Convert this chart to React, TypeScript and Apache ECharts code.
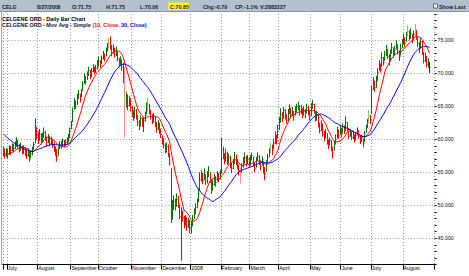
import { useEffect, useRef } from 'react';
import * as echarts from 'echarts';

// Month axis: label shown at the first trading day of each month, and trading days per month
const monthLabels = ['', 'July', 'August', 'September', 'October', 'November', 'December', '2008', 'February', 'March', 'April', 'May', 'June', 'July', 'August'];
const monthDays = [3, 21, 23, 19, 23, 21, 20, 21, 20, 20, 22, 21, 21, 22, 19];

// Closes before the first visible bar (used only to warm up the moving averages)
const preHistoryCloses = [
  64.2, 63.8, 64.5, 63.9, 63.2, 64.0, 63.5, 62.8, 63.6, 63.1, 64.0, 63.8,
  61.5, 60.8, 60.2, 59.6, 60.4, 59.8, 59.1, 60.0,
  58.4, 57.6, 57.9, 58.3, 57.2, 57.5, 58.0, 57.4, 57.7,
];

const closes = [
  58.2, 57.5, 58.0,
  57.8, 58.5, 58.3, 58.9, 58.6, 59.2, 59.6, 59.0, 58.6, 58.9, 58.2, 58.5, 58.0, 57.6, 58.1, 57.0, 57.8, 58.4, 59.2, 61.5, 60.6,
  60.0, 60.8, 59.6, 60.4, 61.0, 60.2, 59.5, 60.3, 59.4, 59.9, 59.1, 58.6, 58.0, 57.4, 58.6, 59.2, 59.0, 59.6, 59.3, 59.5, 59.8, 60.2, 61.3,
  62.3, 64.2, 65.5, 65.0, 66.3, 66.8, 66.0, 67.2, 68.3, 69.3, 68.8, 69.8, 70.4, 69.6, 70.3, 70.9, 70.2, 70.8, 71.3,
  71.8, 71.2, 72.2, 72.8, 72.3, 73.4, 74.0, 74.6, 74.2, 73.1, 73.8, 72.9, 73.5, 72.2, 71.5, 72.0, 70.9, 69.8, 65.8, 66.5, 65.2, 66.0, 64.8,
  64.0, 63.2, 64.3, 63.5, 62.6, 62.0, 63.1, 62.5, 62.8, 63.6, 64.8, 65.2, 64.1, 63.5, 62.8, 63.4, 62.2, 61.6, 62.4, 61.2, 60.8,
  59.8, 59.0, 58.4, 58.9, 57.8, 56.4, 48.5, 49.5, 50.6, 49.8, 50.9, 50.2, 48.3, 48.9, 48.1, 47.2, 47.8, 46.8, 47.5, 46.4,
  46.9, 47.8, 48.9, 49.6, 50.4, 51.8, 53.9, 54.6, 53.8, 54.9, 53.6, 54.5, 55.3, 53.9, 52.6, 53.2, 54.1, 53.5, 54.6, 54.0, 54.8,
  58.4, 57.6, 56.8, 57.9, 56.5, 57.2, 56.1, 55.6, 56.4, 57.3, 56.7, 55.9, 55.2, 54.6, 55.8, 56.6, 57.2, 56.4, 57.0, 56.3,
  56.9, 57.5, 56.2, 55.6, 56.8, 57.4, 56.5, 55.8, 56.9, 55.4, 54.8, 56.3, 57.2, 58.0, 58.8, 58.3, 59.4, 60.3, 59.8, 61.2,
  62.6, 63.8, 63.2, 64.3, 63.5, 62.9, 64.0, 64.6, 63.7, 64.2, 63.4, 64.5, 64.9, 65.2, 64.1, 64.6, 63.8, 64.4, 63.9, 64.8, 64.3, 63.6,
  64.8, 65.3, 64.2, 63.0, 63.6, 62.1, 61.3, 62.2, 60.8, 60.1, 61.0, 59.6, 58.9, 59.8, 58.5, 58.0, 59.2, 60.0, 61.2, 60.6, 61.5,
  60.8, 61.9, 61.2, 62.5, 61.6, 60.5, 61.1, 60.2, 60.8, 59.9, 60.6, 61.3, 60.4, 59.7, 60.2, 59.4, 60.9, 61.8, 62.6, 63.4, 62.8,
  67.6, 68.5, 67.9, 68.8, 70.2, 71.3, 70.6, 72.4, 71.6, 72.8, 73.5, 72.6, 71.8, 73.0, 73.9, 72.9, 73.6, 74.3, 73.4, 72.6, 73.8, 74.5,
  75.2, 74.6, 75.8, 76.4, 75.5, 76.1, 75.0, 75.9, 76.5, 75.4, 74.6, 73.8, 74.9, 73.2, 72.0, 72.6, 71.4, 71.64, 70.85,
];

const highs = [
  58.9, 58.6, 58.7,
  58.6, 59.1, 59.0, 59.4, 59.3, 59.7, 60.3, 59.9, 59.3, 59.5, 59.0, 59.1, 58.8, 58.4, 58.6, 58.2, 58.3, 58.9, 59.6, 63.2, 61.9,
  61.2, 61.6, 60.9, 61.0, 61.8, 61.3, 60.4, 60.8, 60.5, 60.4, 60.0, 59.5, 58.9, 58.5, 58.9, 59.7, 59.8, 60.1, 59.9, 60.0, 60.3, 60.8, 61.8,
  62.8, 64.8, 66.3, 65.9, 66.9, 67.5, 66.9, 67.6, 68.8, 70.0, 69.6, 70.3, 71.0, 70.5, 70.8, 71.4, 71.0, 71.3, 72.0,
  72.5, 72.0, 72.7, 73.4, 73.0, 73.9, 74.6, 75.4, 75.6, 74.3, 74.4, 73.9, 74.1, 73.3, 72.3, 72.6, 72.1, 71.6, 71.0, 67.2, 66.8, 66.6, 66.2,
  65.1, 64.4, 64.9, 64.6, 63.7, 62.9, 63.6, 63.3, 63.4, 64.2, 65.6, 66.3, 65.4, 64.5, 63.8, 64.0, 63.5, 62.6, 62.9, 62.5, 61.6,
  60.6, 60.2, 59.4, 59.5, 59.2, 57.9, 55.6, 50.8, 51.5, 51.0, 51.8, 51.4, 50.1, 49.7, 49.2, 48.4, 48.5, 48.2, 48.1, 47.8,
  47.6, 48.5, 49.5, 50.3, 51.0, 52.6, 55.0, 55.3, 54.9, 55.6, 54.7, 55.2, 55.9, 55.0, 53.8, 53.9, 54.8, 54.4, 55.2, 54.9, 55.4,
  60.2, 58.9, 57.9, 58.6, 58.1, 57.8, 57.5, 56.4, 57.0, 58.1, 57.7, 57.0, 56.2, 55.6, 56.4, 57.3, 58.0, 57.5, 57.6, 57.3,
  57.6, 58.0, 57.4, 56.5, 57.3, 58.0, 57.6, 56.8, 57.4, 56.6, 55.8, 56.8, 57.8, 58.6, 59.5, 59.2, 60.1, 61.2, 60.7, 62.2,
  63.4, 64.7, 64.1, 64.9, 64.6, 63.8, 64.6, 65.3, 64.8, 64.9, 64.3, 65.0, 65.4, 65.7, 65.1, 65.2, 64.7, 65.0, 64.6, 65.4, 65.1, 64.5,
  65.5, 66.0, 65.4, 64.3, 64.2, 63.7, 62.5, 62.9, 62.4, 61.3, 61.6, 60.9, 60.0, 60.3, 59.9, 58.9, 59.8, 60.7, 61.9, 61.5, 62.1,
  61.7, 62.4, 62.1, 63.5, 62.6, 61.7, 61.6, 61.2, 61.3, 60.7, 61.1, 61.8, 61.4, 60.6, 60.7, 60.1, 61.3, 62.2, 63.1, 64.4, 63.7,
  68.2, 69.4, 68.9, 69.6, 70.8, 72.0, 71.5, 73.2, 72.5, 73.4, 74.3, 73.7, 72.9, 73.6, 74.6, 73.9, 74.2, 75.0, 74.4, 73.5, 74.5, 75.2,
  76.0, 75.5, 76.3, 77.3, 76.5, 76.8, 76.0, 76.5, 77.5, 76.6, 75.4, 74.8, 75.3, 74.9, 73.2, 73.1, 72.6, 72.3, 71.75,
];

const lows = [
  57.4, 57.1, 57.3,
  57.0, 57.7, 57.6, 58.2, 58.0, 58.5, 58.9, 58.6, 58.0, 58.2, 57.7, 57.8, 57.4, 57.0, 57.4, 56.6, 57.1, 57.6, 58.3, 59.4, 60.0,
  59.3, 59.8, 59.2, 59.5, 60.2, 59.8, 58.9, 59.4, 58.9, 59.2, 58.7, 58.1, 57.5, 56.6, 57.5, 58.5, 58.6, 58.9, 58.8, 59.0, 59.2, 59.5, 60.2,
  61.5, 62.6, 64.5, 64.6, 65.2, 66.1, 65.6, 66.4, 67.4, 68.4, 68.3, 69.0, 69.6, 69.1, 69.4, 70.2, 69.8, 70.1, 70.6,
  71.0, 70.8, 71.4, 72.1, 71.8, 72.6, 73.3, 73.8, 73.6, 72.6, 73.0, 72.4, 72.6, 71.8, 70.9, 71.2, 70.4, 68.5, 60.2, 64.8, 64.4, 65.0, 64.2,
  63.4, 62.8, 63.2, 63.0, 62.0, 61.4, 62.0, 61.9, 61.1, 62.7, 63.8, 64.2, 63.8, 63.0, 62.3, 62.5, 61.8, 61.0, 61.4, 60.8, 60.2,
  59.2, 58.6, 57.9, 58.0, 57.3, 56.0, 47.3, 47.8, 49.3, 49.2, 49.8, 49.6, 47.9, 41.6, 47.5, 46.5, 46.9, 46.1, 46.6, 45.8,
  45.7, 46.8, 47.9, 48.7, 49.6, 50.5, 52.2, 53.6, 53.2, 53.8, 53.1, 53.3, 54.3, 53.4, 51.7, 52.2, 53.0, 52.8, 53.6, 53.5, 53.9,
  54.8, 57.0, 56.2, 56.6, 56.1, 56.3, 55.6, 54.9, 55.5, 56.3, 56.1, 55.4, 54.5, 53.3, 54.9, 55.7, 56.3, 55.9, 56.3, 55.8,
  56.0, 56.8, 55.9, 55.0, 55.7, 56.7, 56.1, 55.3, 56.0, 54.8, 53.8, 55.1, 56.4, 57.3, 58.1, 57.6, 58.5, 59.3, 59.2, 60.1,
  61.4, 62.6, 62.6, 63.2, 63.0, 62.4, 62.8, 63.8, 63.1, 63.5, 62.8, 63.6, 64.1, 64.4, 63.6, 63.8, 63.2, 63.6, 63.2, 64.0, 63.6, 62.9,
  63.5, 64.6, 63.9, 62.7, 62.8, 61.8, 60.9, 61.2, 60.4, 59.7, 60.2, 59.2, 58.5, 59.1, 58.2, 57.1, 58.3, 59.3, 60.1, 60.1, 60.7,
  60.3, 60.9, 60.8, 61.3, 61.2, 60.1, 60.4, 59.9, 60.0, 59.5, 59.8, 60.6, 60.1, 59.3, 59.6, 58.8, 59.6, 61.0, 61.7, 62.5, 62.3,
  63.8, 67.5, 67.2, 67.8, 68.9, 70.4, 70.1, 71.0, 71.2, 71.9, 72.6, 72.2, 71.2, 71.9, 73.0, 72.4, 72.8, 73.6, 72.9, 71.9, 72.7, 73.8,
  74.4, 74.0, 74.8, 75.6, 75.0, 75.2, 74.6, 75.1, 75.6, 75.1, 74.0, 73.1, 73.8, 72.8, 71.5, 71.7, 70.9, 70.9, 70.06,
];

const yGridValues = [45, 50, 55, 60, 65, 70, 75];
const headerTexts = ['CELG', '8/27/2008', 'O:71.75', 'H:71.75', 'L:70.06', 'C:70.85', 'Chg:-0.79', 'CP:-1.1%', 'V:2883227'];
const showLastText = 'Show Last';
const titleText = 'CELGENE ORD - Daily Bar Chart';
const maTitleParts = ['CELGENE ORD - Mov Avg - Simple ', '(10, Close, ', '30, Close)'];
const maPeriods = [10, 30];

export default function App() {
  const ref = useRef<HTMLDivElement>(null);

  useEffect(() => {
    document.body.style.margin = '0';
    const chart = echarts.init(ref.current!, undefined, { renderer: 'svg' });

    const cats: string[] = [];
    const monthStart = new Set<number>();
    const labelByIndex: Record<number, string> = {};
    let idx = 0;
    monthDays.forEach((d, m) => {
      monthStart.add(idx);
      labelByIndex[idx] = monthLabels[m];
      for (let k = 0; k < d; k++) {
        cats.push(m + '-' + (k + 1));
        idx++;
      }
    });
    for (let k = 0; k < 3; k++) cats.push('pad-' + k);

    const all = preHistoryCloses.concat(closes);
    const off = preHistoryCloses.length;
    const sma = (n: number) =>
      closes.map((_, i) => {
        const end = i + off;
        let s = 0;
        for (let k = end - n + 1; k <= end; k++) s += all[k];
        return +(s / n).toFixed(3);
      });
    const ma10 = sma(maPeriods[0]);
    const ma30 = sma(maPeriods[1]);

    const colors = closes.map((c, i) => {
      if (i === closes.length - 1) return '#0000ff';
      const prev = i === 0 ? preHistoryCloses[off - 1] : closes[i - 1];
      const pos = (c - lows[i]) / Math.max(0.01, highs[i] - lows[i]);
      if (c >= prev) return pos >= 0.5 ? '#007400' : '#76cc76';
      return pos <= 0.5 ? '#ff0000' : '#ff9090';
    });

    const font = (size: number, bold = false) => (bold ? 'bold ' : '') + size + 'px "Liberation Sans", Arial, sans-serif';
    const headerX = [2, 37, 72, 106, 140, 170, 203, 235, 260];

    const graphic: any[] = [
      { id: 'hdr', type: 'rect', shape: { x: 0, y: 0, width: 469, height: 11.5 }, style: { fill: '#b4c0cd' }, z: 10 },
      { id: 'hdrline', type: 'line', shape: { x1: 0, y1: 11.5, x2: 469, y2: 11.5 }, style: { stroke: '#8a96a4', lineWidth: 1 }, z: 10 },
      { id: 'hl', type: 'rect', shape: { x: 168.3, y: 2.6, width: 20.7, height: 7.4 }, style: { fill: '#ffff00' }, z: 11 },
      ...headerTexts.map((t, i) => ({
        id: 'ht' + i, type: 'text', x: headerX[i], y: 6.6, z: 12,
        style: { text: t, font: font(5.3, true), fill: '#141a3c', verticalAlign: 'middle' },
      })),
      { id: 'cb', type: 'rect', shape: { x: 433.5, y: 4, width: 4, height: 4 }, style: { fill: '#ffffff', stroke: '#4a4a4a', lineWidth: 0.8 }, z: 12 },
      { id: 'sl', type: 'text', x: 439, y: 6.6, z: 12, style: { text: showLastText, font: font(5.3, true), fill: '#141a3c', verticalAlign: 'middle' } },
      { id: 'lb', type: 'line', shape: { x1: 1.5, y1: 11.5, x2: 1.5, y2: 265 }, style: { stroke: '#9ea7b2', lineWidth: 1 }, z: 10 },
      { id: 't1', type: 'text', x: 2, y: 18.7, z: 12, style: { text: titleText, font: font(5.4, true), fill: '#000000', verticalAlign: 'middle' } },
      {
        id: 't2', type: 'text', x: 2, y: 24.6, z: 12,
        style: {
          text: '{a|' + maTitleParts[0] + '}{r|' + maTitleParts[1] + '}{b|' + maTitleParts[2] + '}',
          verticalAlign: 'middle',
          rich: {
            a: { fill: '#10104a', font: font(5.4, true) },
            r: { fill: '#ff0000', font: font(5.4, true) },
            b: { fill: '#0000ff', font: font(5.4, true) },
          },
        },
      },
    ];

    const monthFilter = (i: number) => monthStart.has(i);

    chart.setOption({
      animation: false,
      backgroundColor: '#ffffff',
      grid: { left: 2.8, top: 14, width: 431.8, height: 250.6, containLabel: false, outerBoundsMode: 'none' },
      xAxis: {
        type: 'category',
        data: cats,
        boundaryGap: true,
        axisLine: { lineStyle: { color: '#000000', width: 1 } },
        axisTick: { show: true, interval: monthFilter, length: 5, lineStyle: { color: '#000000' } },
        axisLabel: {
          interval: monthFilter,
          formatter: (_v: string, i: number) => labelByIndex[i] ?? '',
          align: 'left',
          fontSize: 5.2,
          fontFamily: '"Liberation Sans", Arial, sans-serif',
          margin: 1,
          color: '#000000',
        },
        splitLine: { show: true, interval: monthFilter, lineStyle: { color: '#9a9a9a', type: [1, 2], width: 1 } },
      },
      yAxis: {
        type: 'value',
        position: 'right',
        min: 41,
        max: 79,
        interval: 1,
        axisLine: { show: false },
        axisTick: { show: true, length: 2, lineStyle: { color: '#000000' } },
        axisLabel: {
          formatter: (v: number) => (Math.round(v) % 5 === 0 ? v.toFixed(3) : ''),
          fontSize: 5.3,
          fontFamily: '"Liberation Sans", Arial, sans-serif',
          color: '#111111',
          margin: 3,
        },
        splitLine: { show: false },
      },
      series: [
        {
          type: 'custom',
          z: 3,
          data: closes.map((_, i) => [i, highs[i], lows[i], closes[i]]),
          encode: { x: 0, y: [1, 2] },
          renderItem: (params: any, api: any) => {
            const i = api.value(0);
            const p1 = api.coord([i, api.value(1)]);
            const p2 = api.coord([i, api.value(2)]);
            const pc = api.coord([i, api.value(3)]);
            const x = Math.round(p1[0] - 0.5) + 0.5;
            const cy = Math.round(pc[1] - 0.5) + 0.5;
            const stroke = colors[params.dataIndex];
            return {
              type: 'group',
              children: [
                { type: 'line', shape: { x1: x, y1: p1[1], x2: x, y2: p2[1] }, style: { stroke, lineWidth: 1 } },
                { type: 'line', shape: { x1: x, y1: cy, x2: x + 1, y2: cy }, style: { stroke, lineWidth: 1 } },
              ],
            };
          },
          markLine: {
            z: 1,
            silent: true,
            symbol: ['none', 'none'],
            label: { show: false },
            lineStyle: { color: '#9a9a9a', type: [1, 2], width: 1 },
            data: yGridValues.map((v) => ({ yAxis: v })),
          },
        },
        {
          type: 'line',
          z: 4,
          data: ma10,
          symbol: 'none',
          showSymbol: false,
          lineStyle: { color: '#ff0000', width: 1 },
          itemStyle: { color: '#ff0000' },
        },
        {
          type: 'line',
          z: 4,
          data: ma30,
          symbol: 'none',
          showSymbol: false,
          lineStyle: { color: '#0000ff', width: 1 },
          itemStyle: { color: '#0000ff' },
        },
      ],
      graphic,
    });

    return () => chart.dispose();
  }, []);

  return <div ref={ref} style={{ width: 469, height: 276 }} />;
}
